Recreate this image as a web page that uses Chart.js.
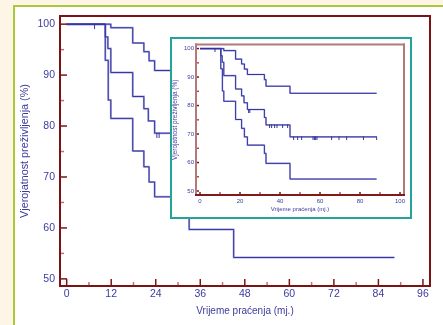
<!DOCTYPE html>
<html><head><meta charset="utf-8">
<script src="https://cdn.jsdelivr.net/npm/chart.js@4"></script>
<style>
html,body{margin:0;padding:0;width:443px;height:325px;overflow:hidden;background:#fdf6e7;}
#panel{position:absolute;left:13px;top:5px;width:440px;height:330px;border:2px solid #a9c93b;background:#fff;}
#main{position:absolute;left:0;top:0;}
#insetBox{position:absolute;left:170px;top:37px;width:242px;height:182px;box-sizing:border-box;border:2px solid #24a39b;background:#fff;}
#inset{position:absolute;left:0;top:0;}
</style></head><body>
<div id="panel"></div>
<canvas id="main" width="443" height="325"></canvas>
<div id="insetBox"><canvas id="inset" width="238" height="178"></canvas></div>
<script>
// ---- data (time in months, survival in %) ----
const upperTime  = [0, 11.9, 17.8, 20.8, 22.2, 23.7, 32.2, 33, 45, 88.3];
const upperSurv  = [100, 99.3, 96.3, 94.6, 92.8, 90.9, 89.1, 86.8, 84.3, 84.3];
const middleTime = [0, 10.4, 11.1, 11.9, 17.8, 20.8, 22.0, 23.7, 32.2, 33, 45, 88.3];
const middleSurv = [100, 97.5, 95.2, 90.5, 85.8, 83.4, 81.0, 78.6, 75.8, 73.2, 69.0, 69.0];
const lowerTime  = [0, 10.4, 11.2, 11.9, 17.8, 20.8, 22.2, 23.7, 32.2, 33, 45, 88.3];
const lowerSurv  = [100, 92.9, 85.1, 81.5, 75.1, 72.0, 69.0, 66.1, 63.2, 59.7, 54.2, 54.2];
const censorTime = [7.5, 24.3, 24.9, 34.8, 35.8, 37.3, 38.5, 41.3, 43.8,
                    46.8, 48.8, 50.8, 56.5, 57.2, 57.8, 58.5, 65.8, 69.5, 73.3, 81.7, 88.3];
const censorSurv = [100, 78.6, 78.6, 73.2, 73.2, 73.2, 73.2, 73.2, 73.2,
                    69.0, 69.0, 69.0, 69.0, 69.0, 69.0, 69.0, 69.0, 69.0, 69.0, 69.0, 69.0];
const mainXTicks  = [0, 12, 24, 36, 48, 60, 72, 84, 96];
const mainYTicks  = [50, 60, 70, 80, 90, 100];
const insetXTicks = [0, 20, 40, 60, 80, 100];
const insetYTicks = [50, 60, 70, 80, 90, 100];
const yTitle = 'Vjerojatnost preživljenja (%)';
const xTitle = 'Vrijeme praćenja (mj.)';

const FONT = "'Liberation Sans', Arial, Helvetica, sans-serif";
const TXT = '#3b3b9e';
const DARK = '#3434a0';
const LIGHT = 'rgba(150,150,218,0.85)';

function pts(t, s){ return t.map((v,i)=>({x:v, y:s[i]})); }

function censorMark(h){
  const c = document.createElement('canvas');
  c.width = 3; c.height = 2*h+1;
  const g = c.getContext('2d');
  g.strokeStyle = DARK; g.lineWidth = 1;
  g.beginPath(); g.moveTo(1.5, h); g.lineTo(1.5, 2*h+1); g.stroke();
  return c;
}

function framePlugin(cfg){
  return {
    id: 'frame',
    afterDatasetsDraw(chart){
      const {ctx, chartArea:a, scales:{x, y}} = chart;
      ctx.save();
      ctx.lineWidth = 1.5;
      const xs = cfg.xTicks, xstep = xs[1]-xs[0];
      xs.forEach((v, i) => {
        const px = x.getPixelForValue(v);
        ctx.strokeStyle = cfg.major; ctx.beginPath();
        ctx.moveTo(px, a.bottom); ctx.lineTo(px, a.bottom - cfg.xMajor); ctx.stroke();
        if (i < xs.length - 1) {
          const pm = x.getPixelForValue(v + xstep/2);
          ctx.strokeStyle = cfg.minor; ctx.beginPath();
          ctx.moveTo(pm, a.bottom); ctx.lineTo(pm, a.bottom - cfg.xMinor); ctx.stroke();
        }
      });
      const ys = cfg.yTicks, ystep = ys[1]-ys[0];
      ys.forEach((v, i) => {
        const py = y.getPixelForValue(v);
        ctx.strokeStyle = cfg.major; ctx.beginPath();
        ctx.moveTo(a.left, py); ctx.lineTo(a.left + cfg.yMajor, py); ctx.stroke();
        if (i < ys.length - 1) {
          const pm = y.getPixelForValue(v + ystep/2);
          ctx.strokeStyle = cfg.minor; ctx.beginPath();
          ctx.moveTo(a.left, pm); ctx.lineTo(a.left + cfg.yMinor, pm); ctx.stroke();
        }
      });
      ctx.lineWidth = 2;
      ctx.lineCap = 'square';
      const side = (c, x1, y1, x2, y2) => { ctx.strokeStyle = c; ctx.beginPath(); ctx.moveTo(x1,y1); ctx.lineTo(x2,y2); ctx.stroke(); };
      side(cfg.frameSide, a.left, a.top, a.right, a.top);
      side(cfg.frameSide, a.right, a.top, a.right, a.bottom);
      side(cfg.frameSide, a.left, a.top, a.left, a.bottom);
      side(cfg.frameBottom, a.left, a.bottom, a.right, a.bottom);
      ctx.restore();
    }
  };
}

function makeChart(el, o){
  const curves = [[upperTime, upperSurv], [middleTime, middleSurv], [lowerTime, lowerSurv]];
  const datasets = [];
  curves.forEach(([t, s]) => datasets.push({type:'line', data: pts(t, s), stepped:'before', borderColor: DARK, borderWidth: 1, pointRadius: 0, fill:false, order: 0}));
  curves.forEach(([t, s]) => datasets.push({type:'line', data: pts(t, s), stepped:'before', borderColor: LIGHT, borderWidth: o.lightW, pointRadius: 0, fill:false, order: 2}));
  datasets.push({type:'scatter', data: pts(censorTime, censorSurv), pointStyle: censorMark(o.censorH), pointRadius: 3, order: 1});
  new Chart(el, {
    data: { datasets },
    options: {
      responsive: false, animation: false, devicePixelRatio: 1,
      layout: { padding: o.pad },
      plugins: { legend: {display:false}, tooltip: {enabled:false} },
      scales: {
        x: {
          type: 'linear', min: o.xMin, max: o.xMax,
          afterBuildTicks: s => { s.ticks = o.xTicks.map(v => ({value: v})); },
          afterFit: s => { s.height = o.xH; },
          grid: {display:false, drawTicks:false}, border: {display:false},
          ticks: {padding: o.xTickPad, color: TXT, autoSkip:false, maxRotation:0, font: {family: FONT, size: o.tickSize}},
          title: {display:true, text: xTitle, color: TXT, font: {family: FONT, size: o.xTitleSize}, padding: {top:0, bottom: o.xTitlePad}}
        },
        y: {
          type: 'linear', min: o.yMin, max: o.yMax,
          afterBuildTicks: s => { s.ticks = o.yTicks.map(v => ({value: v})); },
          afterFit: s => { s.width = o.yW; },
          grid: {display:false, drawTicks:false}, border: {display:false},
          ticks: {padding: o.yTickPad, color: TXT, autoSkip:false, font: {family: FONT, size: o.tickSize}},
          title: {display:true, text: yTitle, color: TXT, font: {family: FONT, size: o.yTitleSize, lineHeight: o.yTitleLH}, padding: {top: o.yTitlePad, bottom:0}}
        }
      }
    },
    plugins: [framePlugin(o.frame)]
  });
}

makeChart(document.getElementById('main'), {
  pad: {left:0, top:16, right:13, bottom:0},
  xMin: -1.8, xMax: 97.9, yMin: 48.6, yMax: 101.6,
  xTicks: mainXTicks, yTicks: mainYTicks,
  xH: 39, yW: 60, xTickPad: 2, yTickPad: 5, tickSize: 10.5,
  xTitleSize: 10, xTitlePad: 7.3, yTitleSize: 10.8, yTitleLH: 1.2, yTitlePad: 18.5,
  lightW: 2, censorH: 4,
  frame: {xTicks: mainXTicks, yTicks: mainYTicks, major:'#7d1414', minor:'#c27070',
          xMajor:7, xMinor:4, yMajor:7, yMinor:4, frameSide:'#7d1212', frameBottom:'#7d1212'}
});

makeChart(document.getElementById('inset'), {
  pad: {left:0, top:5, right:6, bottom:0},
  xMin: -2, xMax: 102, yMin: 48.6, yMax: 101.4,
  xTicks: insetXTicks, yTicks: insetYTicks,
  xH: 22, yW: 24, xTickPad: 2.4, yTickPad: 2, tickSize: 6,
  xTitleSize: 6, xTitlePad: 3.9, yTitleSize: 6.5, yTitleLH: 1, yTitlePad: 0,
  lightW: 1.6, censorH: 3,
  frame: {xTicks: insetXTicks, yTicks: insetYTicks, major:'#7d1414', minor:'#b84a4a',
          xMajor:3, xMinor:3, yMajor:3, yMinor:3, frameSide:'#b27a7a', frameBottom:'#7d1a1a'}
});
</script></body></html>
